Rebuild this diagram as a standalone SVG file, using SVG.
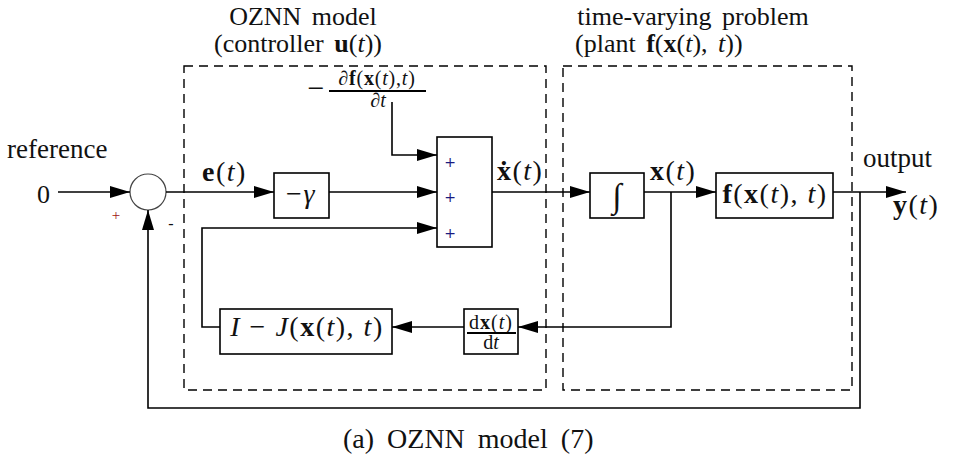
<svg xmlns="http://www.w3.org/2000/svg" width="974" height="465" viewBox="0 0 974 465">
<defs>
<marker id="ah" markerWidth="20" markerHeight="12" refX="20" refY="6" orient="auto" markerUnits="userSpaceOnUse">
<path d="M0,0 L20,6 L0,12 Z" fill="#000"/>
</marker>
<style>
text{font-family:"Liberation Serif","DejaVu Serif",serif;fill:#111;}
.t{font-size:26px;}
.m{font-size:28px;letter-spacing:1.5px;}
.i{font-style:italic;}
.b{font-weight:bold;}
.blk{fill:#fff;stroke:#000;stroke-width:1.6;}
.ln{fill:none;stroke:#000;stroke-width:1.6;}
.ar{fill:none;stroke:#000;stroke-width:1.6;marker-end:url(#ah);}
.dash{fill:none;stroke:#000;stroke-width:1.4;stroke-dasharray:9,6;}
.pl{font-family:"DejaVu Sans",sans-serif;font-size:14px;fill:#1a1a80;}
</style>
</defs>
<rect width="974" height="465" fill="#fff"/>

<g id="labels">
<text class="t" x="303" y="25" text-anchor="middle" word-spacing="4">OZNN model</text>
<text class="t" x="298" y="52" text-anchor="middle" word-spacing="4">(controller <tspan class="b">u</tspan>(<tspan class="i">t</tspan>))</text>
<text class="t" x="693" y="25" text-anchor="middle" word-spacing="4">time-varying problem</text>
<text class="t" x="575" y="52" word-spacing="4">(plant <tspan class="b">f</tspan>(<tspan class="b">x</tspan>(<tspan class="i">t</tspan>), <tspan class="i">t</tspan>))</text>
<text style="font-size:27px" x="7" y="158">reference</text>
<text class="t" x="37" y="203">0</text>
<text style="font-size:27px" x="863" y="167">output</text>
<text class="m" x="893" y="214"><tspan class="b">y</tspan>(<tspan class="i">t</tspan>)</text>
<text class="m" x="202" y="181"><tspan class="b">e</tspan>(<tspan class="i">t</tspan>)</text>
<text class="m" x="497" y="180"><tspan class="b">x&#x307;</tspan>(<tspan class="i">t</tspan>)</text>
<text class="m" x="650" y="180"><tspan class="b">x</tspan>(<tspan class="i">t</tspan>)</text>
<text style="font-size:15px;fill:#a01010" x="116" y="220" text-anchor="middle">+</text>
<text style="font-size:16px" x="171" y="229" text-anchor="middle">-</text>
<text style="font-size:28px" x="343" y="448" word-spacing="6">(a) OZNN model (7)</text>
</g>

<g id="partial">
<text style="font-size:30px" x="316" y="98" text-anchor="middle">−</text>
<text style="font-size:20px;letter-spacing:0.8px" x="377" y="85" text-anchor="middle">∂<tspan class="b">f</tspan>(<tspan class="b">x</tspan>(<tspan class="i">t</tspan>),<tspan class="i">t</tspan>)</text>
<line x1="329" y1="91" x2="426" y2="91" stroke="#000" stroke-width="2"/>
<text style="font-size:20px" x="378" y="107" text-anchor="middle">∂<tspan class="i">t</tspan></text>
</g>

<g id="sum-circle">
<circle cx="148" cy="192" r="18" fill="#fff" stroke="#444" stroke-width="1.2"/>
</g>

<g id="gain">
<rect class="blk" x="274" y="173" width="55" height="45"/>
<text class="m" x="301" y="203" text-anchor="middle">−<tspan class="i">γ</tspan></text>
</g>

<g id="adder">
<rect class="blk" x="437" y="137" width="55" height="110"/>
<text class="pl" x="450" y="167" text-anchor="middle">+</text>
<text class="pl" x="450" y="202" text-anchor="middle">+</text>
<text class="pl" x="450" y="238" text-anchor="middle">+</text>
</g>

<g id="integrator">
<rect class="blk" x="590" y="173" width="54" height="45"/>
<text class="i" style="font-size:34px" x="617" y="207" text-anchor="middle">∫</text>
</g>

<g id="plant">
<rect class="blk" x="716" y="173" width="117" height="45"/>
<text class="m" x="775" y="203" text-anchor="middle"><tspan class="b">f</tspan>(<tspan class="b">x</tspan>(<tspan class="i">t</tspan>), <tspan class="i">t</tspan>)</text>
</g>

<g id="jacobian">
<rect class="blk" x="220" y="309" width="172" height="45"/>
<text class="m" x="307" y="336" text-anchor="middle"><tspan class="i">I</tspan> − <tspan class="i">J</tspan>(<tspan class="b">x</tspan>(<tspan class="i">t</tspan>), <tspan class="i">t</tspan>)</text>
</g>

<g id="derivative">
<rect class="blk" x="464" y="309" width="54" height="45"/>
<text style="font-size:20px;letter-spacing:1px" x="491" y="329" text-anchor="middle">d<tspan class="b">x</tspan>(<tspan class="i">t</tspan>)</text>
<line x1="467" y1="333" x2="516" y2="333" stroke="#000" stroke-width="2"/>
<text style="font-size:20px" x="491" y="349" text-anchor="middle">d<tspan class="i">t</tspan></text>
</g>

<g id="dashed-boxes">
<rect class="dash" x="184" y="66" width="362" height="324"/>
<rect class="dash" x="563" y="66" width="289" height="324"/>
</g>

<g id="connectors">
<line class="ar" x1="58" y1="192" x2="130" y2="192"/>
<line class="ar" x1="166" y1="192" x2="274" y2="192"/>
<line class="ar" x1="329" y1="192" x2="437" y2="192"/>
<polyline class="ar" points="392,102 392,155 437,155"/>
<polyline class="ar" points="220,327 202,327 202,228 437,228"/>
<line class="ar" x1="492" y1="192" x2="590" y2="192"/>
<line class="ar" x1="644" y1="192" x2="716" y2="192"/>
<line class="ar" x1="833" y1="192" x2="906" y2="192"/>
<polyline class="ar" points="671,192 671,327 518,327"/>
<line class="ar" x1="464" y1="327" x2="392" y2="327"/>
<polyline class="ar" points="860,192 860,408 148,408 148,210"/>
</g>
</svg>
